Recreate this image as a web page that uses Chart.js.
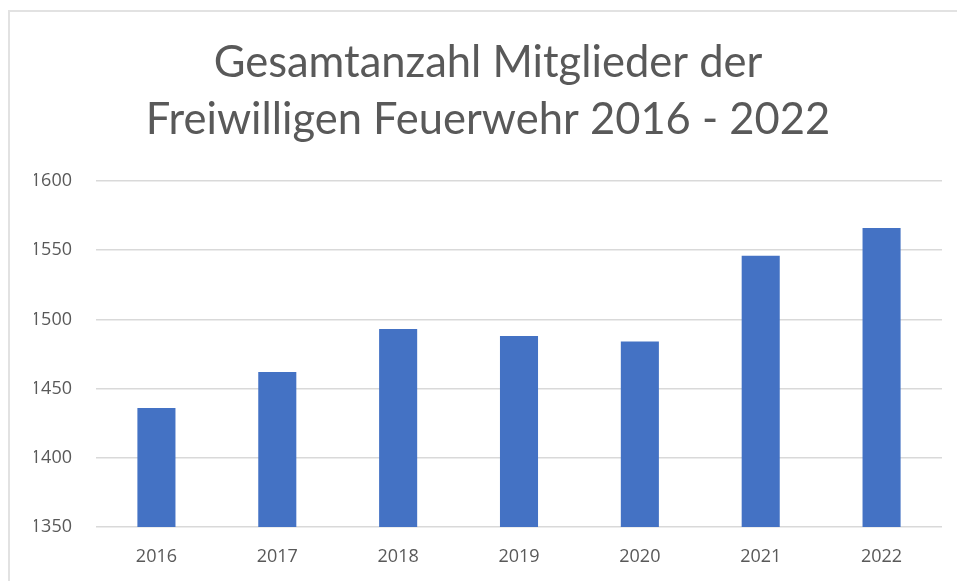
<!DOCTYPE html>
<html>
<head>
<meta charset="utf-8">
<script src="https://cdn.jsdelivr.net/npm/chart.js@4"></script>
<style>
  html, body { margin: 0; padding: 0; background: #ffffff; }
  .wrap { position: relative; width: 957px; height: 581px; overflow: hidden; }
  .frame {
    position: absolute; left: 8px; top: 10px; width: 1000px; height: 1000px;
    border-top: 2px solid #e2e2e2; border-left: 2px solid #e2e2e2;
  }
  canvas { position: absolute; left: 0; top: 0; }
</style>
</head>
<body>
<div class="wrap">
  <div class="frame"></div>
  <canvas id="barChart" width="957" height="581"></canvas>
</div>
<script>
// ==========================
// DATEN
// ==========================
const jahre = ["2016", "2017", "2018", "2019", "2020", "2021", "2022"];
const mitglieder = [1436, 1462, 1493, 1488, 1484, 1546, 1566];
const titelZeilen = ["Gesamtanzahl Mitglieder der", "Freiwilligen Feuerwehr 2016 - 2022"];
const yMin = 1350;
const yMax = 1600;
const yStep = 50;

const textFarbe = "#595959";
const gitterFarbe = "#d9d9d9";

// ==========================
// CHART
// ==========================
const barCanvas = document.getElementById("barChart");
new Chart(barCanvas, {
  type: "bar",
  data: {
    labels: jahre,
    datasets: [
      {
        label: "Mitglieder",
        data: mitglieder,
        backgroundColor: "#4472c4",
        borderWidth: 0,
        barPercentage: 0.63,
        categoryPercentage: 0.5,
      },
    ],
  },
  options: {
    responsive: false,
    animation: false,
    layout: {
      // links etwas Platz, damit der Titel wie im Original leicht rechts sitzt
      padding: { left: 34, right: 15, top: 0, bottom: 0 },
    },
    plugins: {
      legend: { display: false },
      tooltip: { enabled: false },
      title: {
        display: true,
        text: titelZeilen,
        color: textFarbe,
        font: { family: "Lato", size: 43.5, weight: "normal", lineHeight: 1.31 },
        padding: { top: 34, bottom: 33 },
      },
    },
    scales: {
      x: {
        grid: { display: false, drawTicks: false },
        border: { display: false },
        ticks: {
          color: textFarbe,
          font: { family: "Open Sans", size: 18 },
          padding: 19,
          maxRotation: 0,
        },
        afterFit: (axis) => {
          axis.height = 54;
        },
      },
      y: {
        min: yMin,
        max: yMax,
        grid: { color: gitterFarbe, lineWidth: 1.5, drawTicks: false },
        border: { display: false },
        ticks: {
          stepSize: yStep,
          color: textFarbe,
          font: { family: "Open Sans", size: 18 },
          padding: 24,
          callback: (wert) => String(wert),
        },
        afterFit: (axis) => {
          axis.width = 62;
        },
      },
    },
  },
});
</script>
</body>
</html>
